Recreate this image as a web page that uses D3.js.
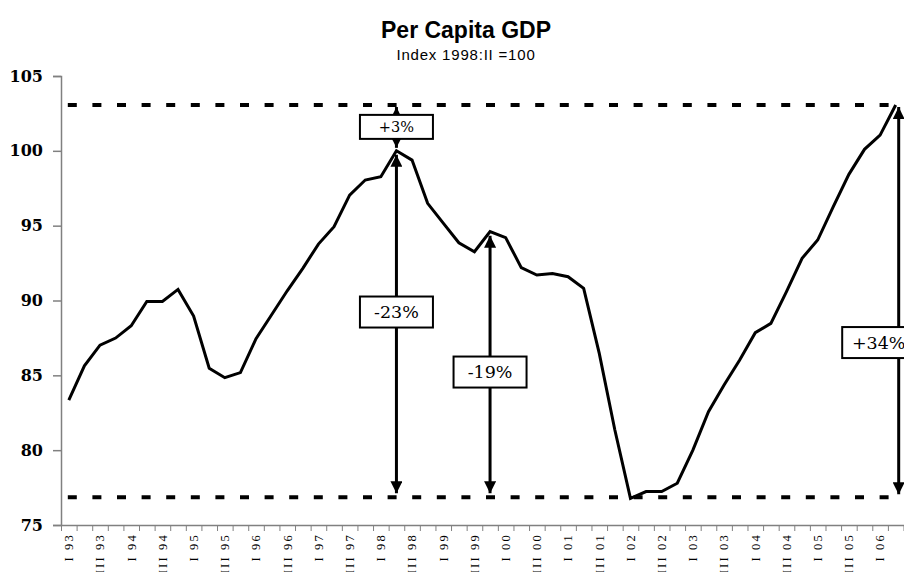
<!DOCTYPE html>
<html>
<head>
<meta charset="utf-8">
<script src="https://cdn.jsdelivr.net/npm/d3@7"></script>
<style>
  body { margin: 0; background: #fff; }
  svg { display: block; }
</style>
</head>
<body>
<svg width="904" height="572"></svg>
<script>
// per capita gdp, quarterly, index 1998:II = 100

const years = ['93','94','95','96','97','98','99','00','01','02','03','04','05','06']
const quarterNames = ['I','II','III','IV']

// 1993:I .. 2006:II
const gdpIndex = [
  83.35, 85.64, 87.02, 87.49, 88.31, 89.94, 89.94, 90.74,
  88.96, 85.47, 84.84, 85.18, 87.45, 89.05, 90.65, 92.15,
  93.77, 94.93, 97.04, 98.05, 98.27, 100.0, 99.38, 96.49,
  95.17, 93.86, 93.26, 94.60, 94.20, 92.20, 91.70, 91.81,
  91.59, 90.81, 86.47, 81.35, 76.78, 77.23, 77.23, 77.79,
  80.00, 82.57, 84.35, 86.02, 87.85, 88.47, 90.59, 92.82,
  94.04, 96.27, 98.43, 100.10, 101.05, 103.06
]

const tickLabels = ['I 93','III 93','I 94','III 94','I 95','III 95','I 96','III 96',
  'I 97','III 97','I 98','III 98','I 99','III 99','I 00','III 00','I 01','III 01',
  'I 02','III 02','I 03','III 03','I 04','III 04','I 05','III 05','I 06']

const yTicks = [75, 80, 85, 90, 95, 100, 105]

// reference levels (dashed lines)
const highLevel = 103.06
const lowLevel = 76.85

// arrows: category index, from value, to value, label, label value
const arrowIdx = [21, 21, 27, 53]
const arrowFrom = [100, 100, 94.6, lowLevel]
const arrowTo = [highLevel, lowLevel, lowLevel, highLevel]
const arrowLabels = ['+3%', '-23%', '-19%', '+34%']
const arrowLabelAt = [101.6, 89.23, 85.22, 87.19]

// build category list
let categories = []
years.forEach(yr => quarterNames.forEach(q => categories.push(q + ' ' + yr)))
categories = categories.slice(0, gdpIndex.length)

const svg = d3.select('svg')

const plotLeft = 61, plotRight = 903.5, plotTop = 76, plotBottom = 525

const x = d3.scaleBand()
  .domain(categories)
  .range([plotLeft, plotRight])
  .padding(0)

const xEdge = d3.scaleLinear()
  .domain([0, categories.length])
  .range([plotLeft, plotRight])

const y = d3.scaleLinear()
  .domain([75, 105])
  .range([plotBottom, plotTop])

const cx = i => x(categories[i]) + x.bandwidth() / 2

// title
svg.append('text')
  .attr('x', 466).attr('y', 38)
  .attr('text-anchor', 'middle')
  .style('font-family', '"Liberation Sans", Arial, sans-serif')
  .style('font-weight', 'bold')
  .style('font-size', '23px')
  .text('Per Capita GDP')

svg.append('text')
  .attr('x', 466).attr('y', 60)
  .attr('text-anchor', 'middle')
  .style('font-family', '"Liberation Sans", Arial, sans-serif')
  .style('font-size', '15px')
  .style('letter-spacing', '0.8px')
  .text('Index 1998:II =100')

// y axis
const yAxis = svg.append('g')
  .attr('transform', `translate(${plotLeft},0)`)
  .call(d3.axisLeft(y).tickValues(yTicks).tickSize(8).tickPadding(10))
yAxis.select('.domain').attr('stroke', '#808080').attr('stroke-width', 1.5)
yAxis.selectAll('.tick line').attr('stroke', '#808080').attr('stroke-width', 1.5)
yAxis.selectAll('.tick text')
  .style('font-family', '"DejaVu Serif", serif')
  .style('font-weight', 'bold')
  .style('font-size', '16px')
  .attr('fill', '#000')

// x axis: ticks between quarters
const xTicks = svg.append('g')
  .attr('transform', `translate(0,${plotBottom})`)
  .call(d3.axisBottom(xEdge).tickValues(d3.range(categories.length + 1)).tickFormat('').tickSize(6).tickSizeOuter(0))
xTicks.select('.domain').attr('stroke', '#808080').attr('stroke-width', 1.5)
xTicks.selectAll('.tick line').attr('stroke', '#808080').attr('stroke-width', 1)

// x labels, rotated
const xLabels = svg.append('g')
  .attr('transform', `translate(0,${plotBottom})`)
  .call(d3.axisBottom(x).tickValues(tickLabels).tickSize(0))
xLabels.select('.domain').remove()
xLabels.selectAll('.tick text')
  .attr('transform', 'rotate(-90)')
  .attr('x', -8)
  .attr('y', 0)
  .attr('dy', '0.35em')
  .attr('text-anchor', 'end')
  .style('font-family', '"Liberation Serif", serif')
  .style('font-size', '12.5px')
  .style('letter-spacing', '2.2px')
  .attr('fill', '#000')

// dashed reference lines
svg.selectAll('.ref')
  .data([highLevel, lowLevel])
  .join('line')
  .attr('class', 'ref')
  .attr('x1', cx(0) - 1)
  .attr('x2', cx(categories.length - 1) + 2)
  .attr('y1', d => y(d))
  .attr('y2', d => y(d))
  .attr('stroke', '#000')
  .attr('stroke-width', 4)
  .attr('stroke-dasharray', '9,15.6')

// the series
const line = d3.line()
  .x((d, i) => cx(i))
  .y(d => y(d))

svg.append('path')
  .datum(gdpIndex)
  .attr('d', line)
  .attr('fill', 'none')
  .attr('stroke', '#000')
  .attr('stroke-width', 3)
  .attr('stroke-linejoin', 'miter')

// arrow head
svg.append('defs').append('marker')
  .attr('id', 'head')
  .attr('viewBox', '0 0 10 10')
  .attr('refX', 10).attr('refY', 5)
  .attr('markerWidth', 12).attr('markerHeight', 12)
  .attr('markerUnits', 'userSpaceOnUse')
  .attr('orient', 'auto-start-reverse')
  .append('path')
  .attr('d', 'M0,0L10,5L0,10z')
  .attr('fill', '#000')

const arrows = arrowIdx.map((idx, k) => ({
  idx: idx, from: arrowFrom[k], to: arrowTo[k],
  label: arrowLabels[k], at: arrowLabelAt[k]
}))

const arrowX = d => d.idx === categories.length - 1 ? cx(d.idx) + 3 : cx(d.idx)

svg.selectAll('.arrow')
  .data(arrows)
  .join('line')
  .attr('class', 'arrow')
  .attr('x1', arrowX)
  .attr('x2', arrowX)
  .attr('y1', d => y(d.from) + (d.to > d.from ? -3 : 4))
  .attr('y2', d => y(d.to) + (d.to > d.from ? 2 : -4))
  .attr('stroke', '#000')
  .attr('stroke-width', 3)
  .attr('marker-start', 'url(#head)')
  .attr('marker-end', 'url(#head)')

// label boxes
const box = svg.selectAll('.box')
  .data(arrows)
  .join('g')
  .attr('class', 'box')
  .attr('transform', d => {
    let bx = arrowX(d)
    if (d.idx === categories.length - 1) bx = bx - 20
    return `translate(${bx},${y(d.at)})`
  })

box.append('rect')
  .attr('x', -36.5)
  .attr('y', d => d.label === '+3%' ? -12 : -15.5)
  .attr('width', 73)
  .attr('height', d => d.label === '+3%' ? 24 : 31)
  .attr('fill', '#fff')
  .attr('stroke', '#000')
  .attr('stroke-width', 2)

box.append('text')
  .attr('text-anchor', 'middle')
  .attr('dy', '0.35em')
  .style('font-family', '"Palatino Linotype", "Book Antiqua", "DejaVu Serif", serif')
  .style('font-size', d => d.label === '+3%' ? '14.5px' : '17.5px')
  .text(d => d.label)
</script>
</body>
</html>
